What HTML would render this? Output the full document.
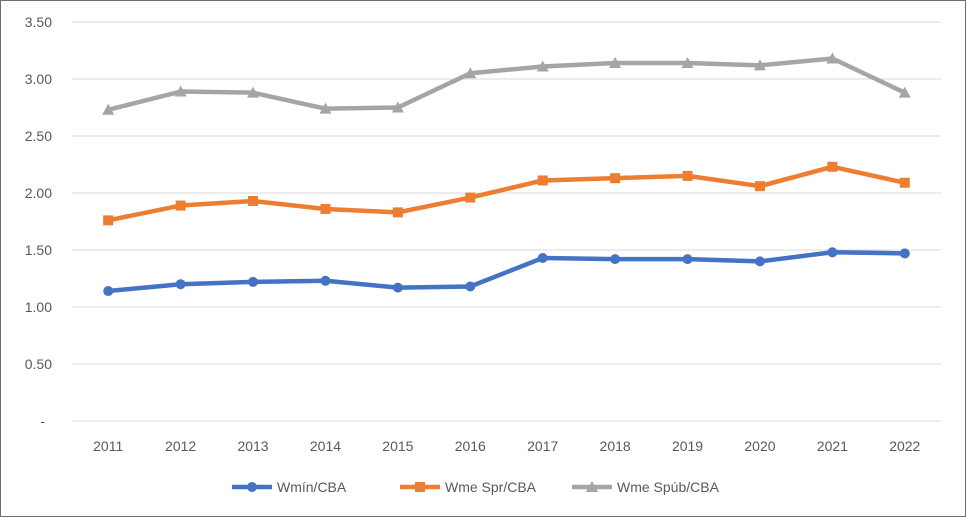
<!DOCTYPE html>
<html><head><meta charset="utf-8"><style>
html,body{margin:0;padding:0;background:#fff}
svg{display:block;font-family:"Liberation Sans",Arial,sans-serif}
</style></head><body>
<svg id="chart" width="966" height="517" viewBox="0 0 966 517">
<rect x="0.5" y="0.5" width="965" height="516" fill="#fff" stroke="#6e6e6e"/>
<g id="grid"></g><g id="yticks"></g><g id="xticks"></g><g id="series"></g><g id="legend"></g>
</svg>
<script>
const categories=["2011","2012","2013","2014","2015","2016","2017","2018","2019","2020","2021","2022"];
const wmin=[1.14,1.20,1.22,1.23,1.17,1.18,1.43,1.42,1.42,1.40,1.48,1.47];
const wmeSpr=[1.76,1.89,1.93,1.86,1.83,1.96,2.11,2.13,2.15,2.06,2.23,2.09];
const wmeSpub=[2.73,2.89,2.88,2.74,2.75,3.05,3.11,3.14,3.14,3.12,3.18,2.88];
const yTicks=[0,0.5,1,1.5,2,2.5,3,3.5];
const yTickLabels=["-","0.50","1.00","1.50","2.00","2.50","3.00","3.50"];
const seriesNames=["Wmín/CBA","Wme Spr/CBA","Wme Spúb/CBA"];
const NS="http://www.w3.org/2000/svg";
const L=72,R=941,Y0=421,Y1=22;
const y=v=>Y0-(v/3.5)*(Y0-Y1);
const step=(R-L)/categories.length;
const x=i=>L+step*(i+0.5);
function mk(t,a,p){const e=document.createElementNS(NS,t);for(const k in a)e.setAttribute(k,a[k]);p.appendChild(e);return e;}
const grid=document.getElementById('grid'),yt=document.getElementById('yticks'),xt=document.getElementById('xticks');
yTicks.forEach((v,i)=>{
 const l=mk('line',{x1:L,x2:R,y1:y(v),y2:y(v),stroke:'#d9d9d9','stroke-width':1},grid);
 
 
 const t=mk('text',{x:i==0?45:52,y:y(v)+5,'text-anchor':'end','font-size':14,fill:'#595959'},yt);
 t.textContent=yTickLabels[i];
 
 
});
categories.forEach((c,i)=>{
 const t=mk('text',{x:x(i),y:451,'text-anchor':'middle','font-size':14,fill:'#595959'},xt);
 t.textContent=c;
 
 
});
const colors=["#4472c4","#ed7d31","#a5a5a5"];
const data=[wmin,wmeSpr,wmeSpub];
const sg=document.getElementById('series');
function marker(kind,cx,cy,col,p){
 let e;
 if(kind==0)e=mk('circle',{cx:cx,cy:cy,r:5,fill:col},p);
 else if(kind==1)e=mk('rect',{x:cx-5,y:cy-5,width:10,height:10,fill:col},p);
 else e=mk('polygon',{points:`${cx},${cy-6} ${cx+6},${cy+5} ${cx-6},${cy+5}`,fill:col},p);
 return e;
}
data.forEach((d,s)=>{
 const g=mk('g',{},sg);
 
 
 const pl=mk('polyline',{points:d.map((v,i)=>x(i)+','+y(v)).join(' '),fill:'none',stroke:colors[s],'stroke-width':4.5,'stroke-linejoin':'round','stroke-linecap':'round'},g);
 
 
 d.forEach((v,i)=>{
  const m=marker(s,x(i),y(v),colors[s],g);
  
  
 });
});
const lg=document.getElementById('legend');
const lx=[232,400,572];
seriesNames.forEach((n,s)=>{
 const g=mk('g',{},lg);
 
 
 mk('line',{x1:lx[s],x2:lx[s]+40,y1:487,y2:487,stroke:colors[s],'stroke-width':4.5},g);
 marker(s,lx[s]+20,487,colors[s],g);
 const t=mk('text',{x:lx[s]+45,y:492,'font-size':14,fill:'#595959'},g);
 t.textContent=n;
});
</script>
</body></html>
